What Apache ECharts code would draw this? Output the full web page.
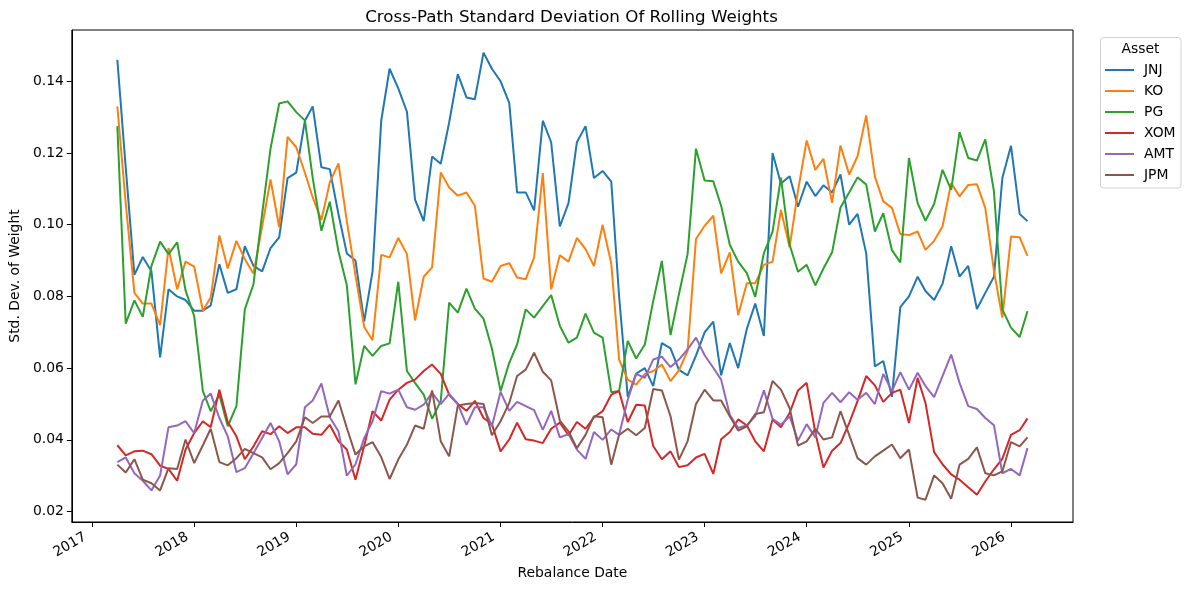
<!DOCTYPE html>
<html>
<head>
<meta charset="utf-8">
<script src="https://cdn.jsdelivr.net/npm/echarts@6/dist/echarts.min.js"></script>
<style>
  html, body { margin: 0; padding: 0; background: #fff; }
  #chart { width: 1191px; height: 590px; }
</style>
</head>
<body>
<div id="chart"></div>
<script>
// monthly rebalance dates, 2017-04 .. 2026-03
const dates = [];
for (let y = 2017, m = 3; y < 2026 || m <= 2; m++) {
  if (m > 11) { m = 0; y++; }
  dates.push(new Date(y, m, 1).getTime());
  if (y === 2026 && m === 2) break;
}

const assets = ["JNJ", "KO", "PG", "XOM", "AMT", "JPM"];
const colors = ["#1f77b4", "#ff7f0e", "#2ca02c", "#d62728", "#9467bd", "#8c564b"];

const jnj = [0.146, 0.116, 0.086, 0.091, 0.087, 0.063, 0.082, 0.080, 0.079, 0.076, 0.076, 0.0775,
  0.089, 0.081, 0.082, 0.094, 0.0885, 0.087, 0.0935, 0.0965, 0.113, 0.1145, 0.129, 0.133,
  0.116, 0.1155, 0.103, 0.092, 0.090, 0.073, 0.087, 0.129, 0.1435, 0.138, 0.1315, 0.107,
  0.101, 0.119, 0.117, 0.1285, 0.142, 0.1355, 0.135, 0.148, 0.1435, 0.140, 0.134, 0.109,
  0.109, 0.104, 0.129, 0.123, 0.0995, 0.106, 0.123, 0.1275, 0.113, 0.115, 0.112, 0.080,
  0.052, 0.0585, 0.060, 0.055, 0.067, 0.0655, 0.0595, 0.058, 0.0635, 0.070, 0.073, 0.058,
  0.067, 0.060, 0.071, 0.078, 0.069, 0.120, 0.1115, 0.1135, 0.105, 0.112, 0.108, 0.111,
  0.109, 0.114, 0.100, 0.103, 0.092, 0.0605, 0.062, 0.052, 0.077, 0.080, 0.0855, 0.0815,
  0.079, 0.0835, 0.094, 0.0855, 0.0885, 0.0765, 0.081, 0.0855, 0.113, 0.122, 0.103, 0.101];

const ko = [0.133, 0.106, 0.081, 0.078, 0.078, 0.072, 0.0935, 0.082, 0.0897, 0.0883, 0.076, 0.0797,
  0.097, 0.0878, 0.0955, 0.0904, 0.0864, 0.0995, 0.1126, 0.0993, 0.1245, 0.1216, 0.1145, 0.1076,
  0.1013, 0.1118, 0.1171, 0.101, 0.0858, 0.0715, 0.0678, 0.0916, 0.0909, 0.0963, 0.0918, 0.0733,
  0.0855, 0.0881, 0.1146, 0.1104, 0.1081, 0.109, 0.1053, 0.085, 0.0841, 0.0885, 0.0893, 0.0853,
  0.0848, 0.0909, 0.1144, 0.082, 0.0915, 0.0897, 0.0963, 0.0932, 0.0885, 0.100, 0.0892, 0.0624,
  0.0568, 0.0554, 0.0584, 0.0592, 0.061, 0.0564, 0.0594, 0.0648, 0.096, 0.0997, 0.1025, 0.0864,
  0.0923, 0.0748, 0.0837, 0.0837, 0.0888, 0.0897, 0.1041, 0.0937, 0.1095, 0.1235, 0.1153, 0.1184,
  0.1061, 0.1221, 0.114, 0.1191, 0.1305, 0.1134, 0.1065, 0.1047, 0.0974, 0.0971, 0.0981, 0.093,
  0.0955, 0.0995, 0.1116, 0.1079, 0.1111, 0.1113, 0.1047, 0.0871, 0.0741, 0.0967, 0.0965, 0.0913];

const pg = [0.1275, 0.0724, 0.0789, 0.0743, 0.0885, 0.0953, 0.0918, 0.0951, 0.0817, 0.0745, 0.0536, 0.048,
  0.0526, 0.0438, 0.0494, 0.0764, 0.0834, 0.103, 0.1212, 0.1338, 0.1344, 0.1314, 0.1291, 0.113,
  0.0983, 0.1064, 0.0926, 0.0831, 0.0555, 0.0662, 0.0634, 0.0662, 0.0669, 0.0841, 0.0592, 0.0559,
  0.0526, 0.0459, 0.0508, 0.0783, 0.0755, 0.0822, 0.0766, 0.0738, 0.0655, 0.0536, 0.0615, 0.0666,
  0.0764, 0.0741, 0.0773, 0.0804, 0.0718, 0.0671, 0.0685, 0.0752, 0.0699, 0.0685, 0.0533, 0.0536,
  0.0676, 0.0627, 0.0666, 0.0787, 0.0899, 0.0692, 0.0806, 0.0918, 0.1212, 0.1123, 0.1121, 0.1053,
  0.0944, 0.0897, 0.0865, 0.0799, 0.0921, 0.0981, 0.1131, 0.0944, 0.0869, 0.0888, 0.0831, 0.0878,
  0.0923, 0.1048, 0.109, 0.1132, 0.1112, 0.0981, 0.1032, 0.0929, 0.0895, 0.1186, 0.106, 0.1011,
  0.1058, 0.1153, 0.1097, 0.1258, 0.1186, 0.1179, 0.1238, 0.1093, 0.0764, 0.0713, 0.0687, 0.0759];

const xom = [0.0385, 0.0357, 0.0368, 0.037, 0.036, 0.0328, 0.0319, 0.0286, 0.0373, 0.0419, 0.0452, 0.0435,
  0.054, 0.045, 0.041, 0.0346, 0.0382, 0.0424, 0.0416, 0.0438, 0.0419, 0.0435, 0.0435, 0.0417,
  0.0414, 0.0442, 0.0396, 0.0373, 0.0289, 0.0383, 0.048, 0.0454, 0.0512, 0.054, 0.0559, 0.0568,
  0.0592, 0.061, 0.0584, 0.0526, 0.050, 0.0481, 0.0509, 0.0461, 0.0444, 0.0368, 0.0401, 0.0448,
  0.0402, 0.0398, 0.0391, 0.0431, 0.0448, 0.0413, 0.045, 0.0431, 0.0463, 0.048, 0.0526, 0.0536,
  0.045, 0.0498, 0.0496, 0.0383, 0.0346, 0.0368, 0.0324, 0.0329, 0.0351, 0.0361, 0.0305, 0.0402,
  0.0422, 0.0457, 0.044, 0.0396, 0.0368, 0.0457, 0.0435, 0.0475, 0.0538, 0.0559, 0.042, 0.0323,
  0.037, 0.0391, 0.0447, 0.0508, 0.0578, 0.0552, 0.0506, 0.0531, 0.054, 0.0447, 0.0573, 0.0503,
  0.0366, 0.0332, 0.0304, 0.0289, 0.0268, 0.0247, 0.0284, 0.0318, 0.0347, 0.0414, 0.0427, 0.046];

const amt = [0.0338, 0.0351, 0.0307, 0.0286, 0.0259, 0.0301, 0.0435, 0.044, 0.0452, 0.0419, 0.051, 0.0529,
  0.0461, 0.041, 0.031, 0.0321, 0.0363, 0.0405, 0.0447, 0.0396, 0.0304, 0.0332, 0.0491, 0.051,
  0.0557, 0.0463, 0.0424, 0.030, 0.0332, 0.0405, 0.0452, 0.0536, 0.0529, 0.054, 0.0491, 0.0484,
  0.0498, 0.0531, 0.050, 0.0528, 0.050, 0.0442, 0.0491, 0.0491, 0.0438, 0.0534, 0.0481, 0.0506,
  0.0494, 0.0483, 0.0428, 0.0481, 0.0407, 0.0416, 0.0373, 0.0347, 0.0422, 0.040, 0.0429, 0.0414,
  0.0512, 0.0584, 0.0573, 0.0624, 0.0632, 0.0603, 0.0624, 0.0652, 0.0685, 0.0636, 0.0601, 0.0568,
  0.047, 0.0433, 0.0441, 0.0466, 0.0538, 0.0459, 0.0442, 0.0466, 0.0398, 0.0444, 0.0407, 0.0503,
  0.0531, 0.0505, 0.0533, 0.0512, 0.0531, 0.050, 0.0584, 0.0536, 0.0589, 0.054, 0.0587, 0.055,
  0.0519, 0.0578, 0.0638, 0.0559, 0.0494, 0.0486, 0.0461, 0.0441, 0.0307, 0.0319, 0.0301, 0.0377];

const jpm = [0.0331, 0.0309, 0.0346, 0.0289, 0.0279, 0.0259, 0.0321, 0.0319, 0.0401, 0.0335, 0.0385, 0.0431,
  0.0338, 0.0329, 0.0349, 0.0375, 0.0363, 0.0351, 0.0318, 0.0335, 0.0363, 0.0396, 0.0463, 0.0447,
  0.0465, 0.0465, 0.051, 0.0433, 0.0359, 0.0382, 0.0394, 0.0352, 0.0291, 0.0345, 0.0387, 0.044,
  0.0431, 0.0538, 0.0396, 0.0354, 0.0496, 0.050, 0.0503, 0.050, 0.0413, 0.0452, 0.0503, 0.0578,
  0.0596, 0.0643, 0.059, 0.0566, 0.0454, 0.0424, 0.0377, 0.0414, 0.0466, 0.0463, 0.0331, 0.0414,
  0.0431, 0.0413, 0.0433, 0.0542, 0.0538, 0.0466, 0.0345, 0.0396, 0.050, 0.054, 0.051, 0.051,
  0.0466, 0.0426, 0.0438, 0.0472, 0.0477, 0.0564, 0.054, 0.0489, 0.0384, 0.0396, 0.0431, 0.0401,
  0.0407, 0.048, 0.0414, 0.0349, 0.0331, 0.0354, 0.037, 0.0387, 0.0349, 0.0373, 0.0239, 0.0233,
  0.0301, 0.0279, 0.0236, 0.0331, 0.0347, 0.0379, 0.0307, 0.0301, 0.0312, 0.0394, 0.0382, 0.0407];

const values = [jnj, ko, pg, xom, amt, jpm];

const font = "DejaVu Sans";
const pad = (dates[dates.length - 1] - dates[0]) * 0.05;
const YEAR = 365 * 24 * 3600 * 1000;

const chart = echarts.init(document.getElementById("chart"));
chart.setOption({
  animation: false,
  backgroundColor: "#fff",
  textStyle: { fontFamily: font },
  title: {
    text: "Cross-Path Standard Deviation Of Rolling Weights",
    left: 571.5,
    textAlign: "center",
    top: 9.5,
    padding: 0,
    textStyle: { fontFamily: font, fontSize: 16.7, fontWeight: "normal", color: "#000" },
  },
  grid: {
    left: 70, right: 118, top: 30, bottom: 68,
    show: true, borderColor: "#000", borderWidth: 1, backgroundColor: "transparent",
  },
  xAxis: {
    type: "time",
    min: dates[0] - pad,
    max: dates[dates.length - 1] + pad,
    minInterval: YEAR,
    maxInterval: YEAR,
    name: "Rebalance Date",
    nameLocation: "middle",
    nameGap: 44,
    nameTextStyle: { fontFamily: font, fontSize: 13.9, color: "#000" },
    axisLine: { show: true, lineStyle: { color: "#000", width: 1 } },
    axisTick: { show: true, length: 5, lineStyle: { color: "#000" } },
    splitLine: { show: false },
    axisLabel: {
      formatter: "{yyyy}",
      rotate: 30,
      margin: 10,
      padding: [0, 8, 0, 0],
      fontFamily: font,
      fontSize: 13.9,
      color: "#000",
      showMinLabel: false,
      showMaxLabel: false,
    },
  },
  yAxis: {
    type: "value",
    min: 0.0171,
    max: 0.1543,
    splitNumber: 7,
    name: "Std. Dev. of Weight",
    nameLocation: "middle",
    nameGap: 46,
    nameTextStyle: { fontFamily: font, fontSize: 13.9, color: "#000" },
    axisLine: { show: true, lineStyle: { color: "#000", width: 1 } },
    axisTick: { show: true, length: 5, lineStyle: { color: "#000" } },
    splitLine: { show: false },
    axisLabel: {
      formatter: (v) => v.toFixed(2),
      margin: 8,
      fontFamily: font,
      fontSize: 13.9,
      color: "#000",
      showMinLabel: false,
      showMaxLabel: false,
    },
  },
  legend: {
    orient: "vertical",
    left: 1105,
    top: 59.5,
    padding: 0,
    itemGap: 0,
    itemWidth: 29,
    itemHeight: 2,
    icon: "rect",
    data: assets,
    textStyle: { fontFamily: font, fontSize: 13.9, color: "#000", lineHeight: 21, padding: [0, 0, 0, 5] },
  },
  graphic: [
    {
      type: "rect",
      z: 0,
      shape: { x: 1100.5, y: 37.5, width: 80.5, height: 150.5, r: 3 },
      style: { fill: "#fff", stroke: "#d0d0d0", lineWidth: 1 },
    },
    {
      type: "text",
      z: 10,
      x: 1140.5,
      y: 49.5,
      style: {
        text: "Asset", fontFamily: font, fontSize: 13.9, fill: "#000",
        textAlign: "center", textVerticalAlign: "middle",
      },
    },
  ],
  series: assets.map((name, k) => ({
    name,
    type: "line",
    symbol: "none",
    showSymbol: false,
    color: colors[k],
    lineStyle: { width: 2, color: colors[k] },
    data: dates.map((d, i) => [d, values[k][i]]),
  })),
});
</script>
</body>
</html>
